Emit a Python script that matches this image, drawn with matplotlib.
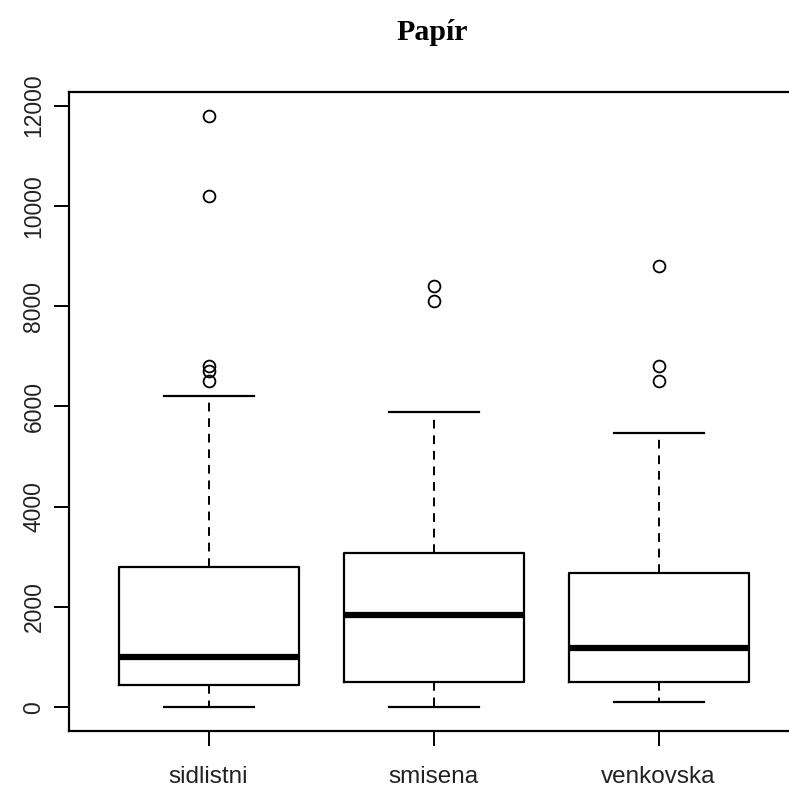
import matplotlib
matplotlib.use("Agg")
import matplotlib.pyplot as plt

# summary values
groups = ['sidlistni', 'smisena', 'venkovska']
whis_lo = [0, 0, 100]
q1 = [440, 500, 500]
medians = [1000, 1850, 1180]
q3 = [2800, 3080, 2680]
whis_hi = [6200, 5900, 5480]
outliers = [[11800, 10200, 6800, 6700, 6500],
            [8400, 8100],
            [8800, 6800, 6500]]

stats = []
for i in range(len(groups)):
    stats.append(dict(label=groups[i], whislo=whis_lo[i], q1=q1[i], med=medians[i],
                      q3=q3[i], whishi=whis_hi[i], fliers=outliers[i]))

fig = plt.figure(figsize=(7.89, 7.89), dpi=100)
# right edge of the frame is cut off in the original
ax = fig.add_axes([69/789, 58/789, 729/789, 639/789])

ax.bxp(stats, positions=[1, 2, 3], widths=0.8, showfliers=True,
       boxprops=dict(color='black', linewidth=1.6),
       medianprops=dict(color='black', linewidth=4.5, solid_capstyle='butt'),
       whiskerprops=dict(color='black', linewidth=1.4, linestyle=(0, (4.5, 3.5))),
       capprops=dict(color='black', linewidth=1.6),
       capwidths=0.4,
       flierprops=dict(marker='o', markerfacecolor='none', markeredgecolor='black',
                       markersize=8.5, markeredgewidth=1.3))

ax.set_xlim(0.38, 3.62)
ax.set_ylim(-472, 12272)
ax.set_yticks([0, 2000, 4000, 6000, 8000, 10000, 12000])
ax.set_yticklabels(['0', '2000', '4000', '6000', '8000', '10000', '12000'],
                   rotation=90, va='center', fontsize=16.5, family='Liberation Sans',
                   color='#222222')
ax.set_xticks([1, 2, 3])
ax.set_xticklabels(groups, fontsize=17.5, family='Liberation Sans', color='#222222')
ax.tick_params(axis='both', length=11, width=1.4, color='black')
ax.tick_params(axis='x', pad=14)
ax.tick_params(axis='y', pad=6)

for s in ax.spines.values():
    s.set_linewidth(1.6)

fig.text(432/789, 1 - 33/789, 'Papír', ha='center', va='center',
         fontsize=21.5, fontweight='bold', family='Liberation Serif')

fig.savefig('out.png', dpi=100)
